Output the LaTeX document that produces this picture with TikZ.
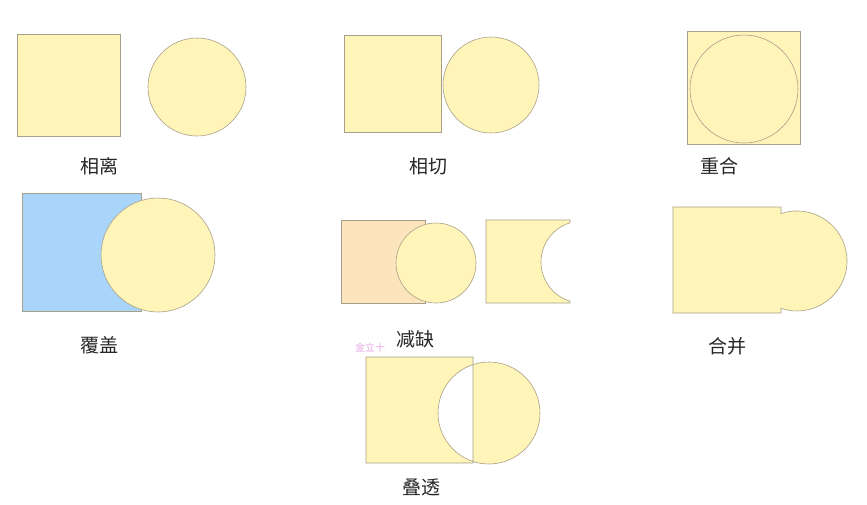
\documentclass[tikz,border=0pt]{standalone}
\usepackage{fontspec}
\usepackage{xcolor}
\usepackage{tikz}
\usetikzlibrary{positioning}
\newfontfamily\cjk{Noto Sans CJK SC}
\definecolor{paleyellow}{HTML}{FFF5B9}
\definecolor{paleblue}{HTML}{A9D5FA}
\definecolor{paleorange}{HTML}{FCE5BC}
\definecolor{edgegrey}{HTML}{A89F88}
\definecolor{markpink}{HTML}{E8A6E6}

\begin{document}
\begin{tikzpicture}[x=1pt, y=-1pt,
    shapebox/.style={draw=edgegrey, line width=0.6pt, fill=paleyellow},
    caption/.style={font=\cjk\fontsize{19}{19}\selectfont, text=black!85, inner sep=0pt}]
    \useasboundingbox[fill=white] (0,0) rectangle (867,504);

    % 相离
    \filldraw[shapebox] (17,34) rectangle (120,136);
    \filldraw[shapebox] (197,87) circle (49);
    \node[caption] (apart) at (99,166) {相离};

    % 相切
    \filldraw[shapebox] (344,35) rectangle (441,132);
    \filldraw[shapebox] (491,85) circle (48);
    \node[caption] (touch) at (428,166) {相切};

    % 重合
    \filldraw[shapebox] (687,31) rectangle (800,144);
    \filldraw[shapebox] (744,89) circle (54);
    \node[caption] (same) at (719,166) {重合};

    % 覆盖
    \filldraw[shapebox, fill=paleblue] (22,193) rectangle (141,311);
    \filldraw[shapebox] (158,255) circle (57);
    \node[caption] (cover) at (99,345) {覆盖};

    % 减缺
    \filldraw[shapebox, fill=paleorange] (341,220) rectangle (425,303);
    \filldraw[shapebox] (436,263) circle (40);
    \filldraw[shapebox] (486,220) -- (570,220) -- (570,222.8)
        arc[start angle=253, end angle=107, radius=41]
        -- (570,303) -- (486,303) -- cycle;
    \node[caption] (cut) at (415,339) {减缺};
    \node[font=\cjk\fontsize{10}{10}\selectfont, text=markpink, inner sep=0pt] (ime) at (370,348) {金立十};

    % 合并
    \filldraw[shapebox] (673,207) -- (781,207) -- (781,213.6)
        arc[start angle=-108.7, end angle=108.7, radius=50]
        -- (781,313) -- (673,313) -- cycle;
    \node[caption] (merge) at (727,346) {合并};

    % 叠透
    \filldraw[shapebox, even odd rule] (366,357) rectangle (473,463) (489,413) circle (51);
    \node[caption] (through) at (421,487) {叠透};
\end{tikzpicture}
\end{document}
